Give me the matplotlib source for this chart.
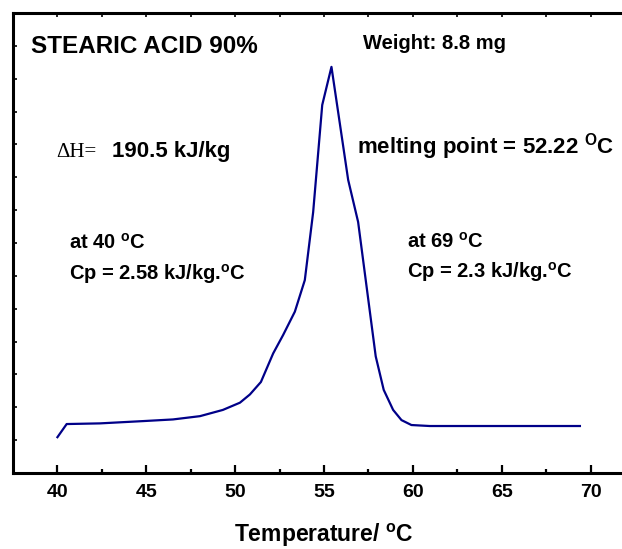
import numpy as np
import matplotlib
matplotlib.use('Agg')
import matplotlib.pyplot as plt
from matplotlib import rcParams

rcParams['font.family'] = 'Liberation Sans'
rcParams['font.weight'] = 'bold'
rcParams['mathtext.fontset'] = 'custom'
rcParams['mathtext.rm'] = 'Liberation Sans:bold'
rcParams['mathtext.it'] = 'Liberation Sans:bold'
rcParams['mathtext.bf'] = 'Liberation Sans:bold'

# DSC trace (temperature in C, heat flow arbitrary units)
temp = [40.0, 40.52, 42.39, 44.83, 46.5, 48.02, 49.31, 50.27, 50.83, 51.45,
        52.14, 52.7, 53.36, 53.92, 54.39, 54.9, 55.42, 56.36, 56.92, 57.91,
        58.36, 58.89, 59.36, 59.92, 60.95, 65.0, 69.4]
heat = [1.09, 1.49, 1.51, 1.58, 1.63, 1.73, 1.92, 2.14, 2.39, 2.77,
        3.64, 4.20, 4.91, 5.87, 7.94, 11.20, 12.36, 8.92, 7.64, 3.55,
        2.53, 1.92, 1.61, 1.46, 1.43, 1.43, 1.43]

xticks = [40, 45, 50, 55, 60, 65, 70]

fig = plt.figure(figsize=(6.22, 5.49), dpi=100)
ax = fig.add_axes([13/622, 1 - 473/549, 622/622, 460/549])

ax.plot(temp, heat, color='#000088', lw=1.6)

ax.set_xlim(37.5, 72.5)
ax.set_ylim(0, 14)
ax.set_xticks(xticks)
ax.set_xticklabels([str(t) for t in xticks], fontweight='bold')
ax.set_xticks(np.arange(42.5, 70, 5), minor=True)
ax.set_yticks(np.arange(1, 14))
ax.set_yticklabels([])
ax.tick_params(axis='x', which='major', direction='in', length=6, width=1.6,
               labelsize=14, pad=8)
ax.tick_params(axis='x', which='minor', direction='in', length=3, width=1.6)
ax.tick_params(axis='y', direction='in', length=3, width=1.2)
for s in ax.spines.values():
    s.set_linewidth(2.2)

# short ticks along the top
top = ax.secondary_xaxis('top')
top.set_xticks(np.arange(40, 72.5, 2.5))
top.set_xticklabels([])
top.tick_params(direction='in', length=3, width=1.2)
top.spines['top'].set_visible(False)

ax.set_xlabel('Temperature/ $^{o}$C', fontsize=16.5, fontweight='bold', labelpad=15)

def ftext(x, y, s, **kw):
    fig.text(x/622, 1 - y/549, s, va='baseline', ha='left', **kw)

ftext(31, 53.3, 'STEARIC ACID 90%', fontsize=17.5)
ftext(363, 49.3, 'Weight: 8.8 mg', fontsize=14.5)
ftext(56.7, 156.7, '\u0394H=', fontsize=15, family='Liberation Serif', weight='normal')
ftext(111.7, 156.7, '190.5 kJ/kg', fontsize=16)
ftext(356.7, 153.3, 'melting point = 52.22 $^{O}$C', fontsize=16)
ftext(69, 249, 'at 40 $^{o}$C', fontsize=14.5)
ftext(69, 280, 'Cp = 2.58 kJ/kg.$^{o}$C', fontsize=14.5)
ftext(406.7, 248, 'at 69 $^{o}$C', fontsize=14.5)
ftext(406.7, 278, 'Cp = 2.3 kJ/kg.$^{o}$C', fontsize=14.5)

fig.savefig('out.png', dpi=100)
